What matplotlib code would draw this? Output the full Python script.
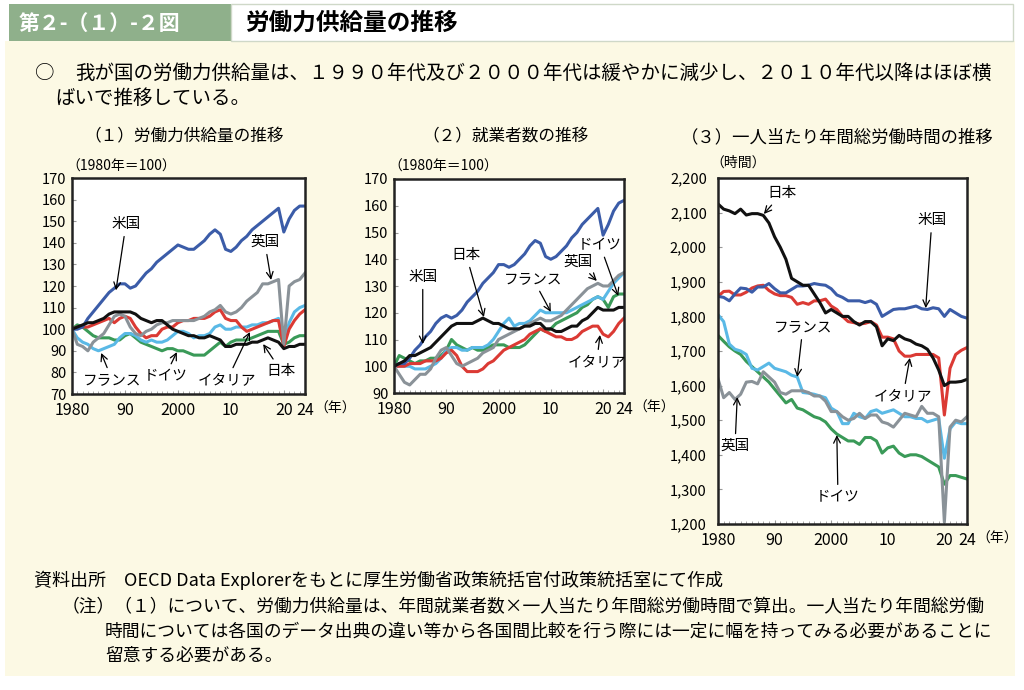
import numpy as np
import matplotlib
matplotlib.use("Agg")
import matplotlib.pyplot as plt
from matplotlib.patches import Rectangle

plt.rcParams['font.family'] = ['Noto Sans CJK JP', 'DejaVu Sans']

years = list(range(1980, 2025))

# (1) labour supply index, 1980=100
supply_us = [100, 100, 101, 105, 108, 111, 114, 117, 119, 121, 121, 119, 120, 123, 126, 128, 131, 133, 135, 137,
             139, 138, 137, 137, 139, 141, 144, 146, 144, 137, 136, 138, 141, 143, 146, 148, 150, 152, 154, 156,
             145, 151, 155, 157, 157]
supply_uk = [100, 93, 92, 90, 94, 96, 98, 102, 106, 107, 106, 101, 98, 97, 99, 100, 102, 103, 103, 104,
             104, 104, 104, 104, 105, 106, 108, 109, 111, 108, 107, 108, 110, 113, 115, 117, 121, 121, 122, 123,
             93, 120, 122, 123, 126]
supply_jp = [100, 101, 102, 103, 103, 104, 105, 107, 108, 108, 108, 108, 107, 105, 104, 103, 104, 104, 102, 100,
             99, 98, 97, 97, 96, 96, 97, 96, 95, 92, 92, 93, 93, 93, 94, 94, 95, 96, 95, 94,
             91, 92, 92, 93, 93]
supply_it = [100, 101, 101, 101, 102, 103, 104, 105, 103, 105, 106, 105, 101, 98, 96, 97, 97, 100, 101, 101,
             103, 104, 104, 105, 105, 105, 106, 108, 109, 105, 104, 104, 101, 99, 100, 101, 102, 103, 104, 104,
             92, 100, 104, 107, 109]
supply_fr = [100, 96, 94, 93, 91, 90, 91, 92, 93, 96, 98, 98, 97, 95, 94, 95, 94, 94, 95, 97,
             99, 99, 98, 96, 97, 97, 98, 101, 102, 100, 100, 101, 101, 101, 102, 102, 103, 103, 104, 105,
             93, 103, 108, 110, 111]
supply_de = [100, 102, 101, 99, 97, 96, 96, 96, 95, 95, 97, 98, 96, 94, 93, 92, 91, 90, 91, 91,
             90, 90, 89, 88, 88, 88, 90, 92, 94, 92, 94, 95, 95, 95, 96, 97, 98, 99, 99, 99,
             93, 94, 96, 97, 97]

# (2) employment index, 1980=100
emp_us = [100, 101, 101, 103, 106, 108, 111, 113, 116, 118, 119, 118, 119, 121, 124, 126, 128, 131, 133, 135,
          138, 138, 137, 138, 140, 142, 145, 147, 146, 141, 140, 141, 143, 145, 148, 150, 153, 155, 157, 159,
          149, 153, 158, 161, 162]
emp_jp = [100, 101, 102, 104, 104, 105, 106, 107, 109, 111, 113, 115, 116, 116, 116, 116, 117, 118, 117, 116,
          116, 115, 114, 114, 114, 115, 115, 116, 116, 114, 114, 113, 113, 114, 115, 115, 117, 118, 120, 122,
          121, 121, 121, 122, 122]
emp_fr = [100, 100, 100, 100, 99, 99, 99, 100, 101, 103, 106, 107, 107, 106, 106, 107, 107, 107, 108, 110,
          113, 116, 118, 115, 116, 116, 117, 119, 121, 120, 120, 120, 120, 120, 121, 122, 123, 124, 125, 126,
          125, 128, 131, 133, 135]
emp_uk = [100, 97, 94, 93, 95, 97, 97, 99, 103, 106, 107, 104, 101, 100, 101, 102, 103, 105, 106, 107,
          110, 111, 112, 113, 114, 115, 116, 117, 118, 117, 117, 118, 119, 121, 123, 125, 127, 129, 130, 131,
          130, 130, 132, 134, 135]
emp_de = [100, 104, 103, 102, 101, 102, 102, 103, 103, 104, 106, 110, 108, 107, 106, 107, 106, 106, 107, 108,
          108, 108, 107, 107, 107, 108, 110, 112, 114, 113, 114, 116, 117, 118, 119, 120, 122, 123, 125, 126,
          125, 122, 126, 127, 127]
emp_it = [100, 100, 100, 101, 101, 101, 102, 102, 102, 103, 105, 106, 104, 100, 98, 98, 98, 99, 101, 102,
          104, 106, 107, 108, 109, 110, 112, 113, 114, 113, 112, 111, 111, 110, 110, 111, 113, 114, 115, 115,
          112, 111, 113, 116, 118]

# (3) annual hours worked per worker
hrs_jp = [2125, 2110, 2105, 2097, 2110, 2093, 2097, 2097, 2092, 2070, 2030, 2000, 1965, 1910, 1900, 1890, 1890,
          1865, 1840, 1810, 1820, 1810, 1800, 1800, 1785, 1775, 1785, 1785, 1770, 1715, 1735, 1730, 1745, 1735,
          1730, 1720, 1715, 1705, 1680, 1645, 1600, 1610, 1610, 1612, 1618]
hrs_us = [1858, 1855, 1845, 1865, 1882, 1880, 1870, 1885, 1885, 1895, 1880, 1868, 1868, 1878, 1888, 1888, 1890,
          1895, 1892, 1890, 1880, 1862, 1855, 1845, 1845, 1845, 1840, 1845, 1835, 1800, 1810, 1820, 1822, 1822,
          1826, 1830, 1822, 1820, 1825, 1822, 1800, 1820, 1810, 1800, 1795]
hrs_it = [1858, 1872, 1873, 1862, 1862, 1870, 1882, 1888, 1890, 1875, 1865, 1860, 1860, 1855, 1835, 1840, 1835,
          1845, 1845, 1850, 1830, 1820, 1800, 1785, 1782, 1778, 1780, 1785, 1775, 1740, 1740, 1735, 1700, 1685,
          1685, 1690, 1690, 1690, 1690, 1680, 1515, 1650, 1690, 1702, 1710]
hrs_fr = [1805, 1785, 1720, 1705, 1700, 1690, 1650, 1645, 1655, 1665, 1650, 1645, 1640, 1630, 1625, 1580, 1578,
          1575, 1570, 1565, 1535, 1525, 1490, 1490, 1520, 1510, 1505, 1525, 1530, 1520, 1525, 1530, 1520, 1510,
          1510, 1505, 1505, 1495, 1500, 1505, 1390, 1475, 1495, 1490, 1490]
hrs_uk = [1620, 1565, 1580, 1560, 1575, 1610, 1612, 1605, 1640, 1625, 1610, 1580, 1575, 1585, 1585, 1585, 1580,
          1570, 1570, 1555, 1525, 1525, 1510, 1500, 1505, 1520, 1505, 1515, 1515, 1495, 1490, 1480, 1500, 1520,
          1515, 1510, 1540, 1520, 1520, 1510, 1205, 1480, 1500, 1495, 1510]
hrs_de = [1745, 1728, 1712, 1700, 1690, 1670, 1655, 1640, 1625, 1610, 1590, 1570, 1550, 1560, 1535, 1530, 1520,
          1510, 1505, 1495, 1475, 1460, 1450, 1440, 1440, 1430, 1450, 1450, 1440, 1405, 1420, 1425, 1405, 1395,
          1400, 1400, 1395, 1385, 1375, 1365, 1315, 1340, 1340, 1335, 1330]

xtick_pos = [1980, 1990, 2000, 2010, 2020, 2024]
xtick_lab = ["1980", "90", "2000", "10", "20", "24"]

c_us = "#3b5ca8"
c_jp = "#111111"
c_uk = "#8a9298"
c_it = "#db3a34"
c_fr = "#5ab9e6"
c_de = "#3a9a58"
cream = "#fcf9e4"

W, H = 1024, 690
fig = plt.figure(figsize=(W / 100, H / 100), dpi=100)
fig.patch.set_facecolor("white")


def fx(x):
    return x / W


def fy(y):
    return 1 - y / H


def box(x0, y0, x1, y1, **kw):
    fig.patches.append(Rectangle((fx(x0), fy(y1)), fx(x1) - fx(x0), fy(y0) - fy(y1),
                                 transform=fig.transFigure, figure=fig, zorder=-10, **kw))


# background blocks
box(5, 41, 1015, 676, facecolor=cream, edgecolor="none")
box(9, 4, 231, 41, facecolor="#8fb08b", edgecolor="none")
box(231, 4, 1013, 41, facecolor="white", edgecolor="#cfd8c8", linewidth=1)

fig.text(fx(19), fy(23), "第２-（１）-２図", color="white", fontsize=15, fontweight="bold", va="center")
fig.text(fx(245), fy(23), "労働力供給量の推移", color="black", fontsize=17, fontweight="bold", va="center")

fig.text(fx(35), fy(73), "○", fontsize=14, va="center")
fig.text(fx(75), fy(73), "我が国の労働力供給量は、１９９０年代及び２０００年代は緩やかに減少し、２０１０年代以降はほぼ横",
         fontsize=14, va="center")
fig.text(fx(55), fy(98), "ばいで推移している。", fontsize=14, va="center")

fig.text(fx(84), fy(137), "（１）労働力供給量の推移", fontsize=12, va="center")
fig.text(fx(422), fy(137), "（２）就業者数の推移", fontsize=12, va="center")
fig.text(fx(681), fy(137), "（３）一人当たり年間総労働時間の推移", fontsize=12.5, va="center")

fig.text(fx(34), fy(580), "資料出所　OECD Data Explorerをもとに厚生労働省政策統括官付政策統括室にて作成",
         fontsize=13, va="center")
fig.text(fx(62), fy(607), "（注）（１）について、労働力供給量は、年間就業者数×一人当たり年間総労働時間で算出。一人当たり年間総労働",
         fontsize=12.8, va="center")
fig.text(fx(105), fy(632), "時間については各国のデータ出典の違い等から各国間比較を行う際には一定に幅を持ってみる必要があることに",
         fontsize=12.8, va="center")
fig.text(fx(105), fy(656), "留意する必要がある。", fontsize=12.8, va="center")


def make_axes(x0, y0, x1, y1):
    ax = fig.add_axes([fx(x0), fy(y1), fx(x1) - fx(x0), fy(y0) - fy(y1)])
    ax.set_facecolor("white")
    for s in ax.spines.values():
        s.set_linewidth(1.8)
        s.set_color("#222222")
    ax.set_xlim(1980, 2024)
    ax.set_xticks(xtick_pos)
    ax.set_xticklabels(xtick_lab, family=["Liberation Sans Narrow", "Noto Sans CJK JP"], fontsize=11.5)
    ax.set_xticks(years, minor=True)
    ax.tick_params(axis="x", which="major", direction="in", length=3, pad=6, color="#999999")
    ax.tick_params(axis="x", which="minor", direction="in", length=2.5, color="#999999")
    ax.tick_params(axis="y", direction="in", length=3, pad=4, labelsize=10.5, color="#999999")
    return ax


def draw(ax, series):
    for vals, col in series:
        ax.plot(years, vals, color=col, lw=2.2, solid_joinstyle="round")


def note(ax, text, xy, xytext):
    ax.annotate(text, xy=xy, xytext=xytext, fontsize=10.5, ha="center", va="center",
                arrowprops=dict(arrowstyle="->", color="black", lw=0.9, shrinkA=2, shrinkB=0,
                                mutation_scale=12))


# panel 1
ax1 = make_axes(72, 178, 305, 394)
draw(ax1, [(supply_de, c_de), (supply_fr, c_fr), (supply_it, c_it), (supply_uk, c_uk),
           (supply_us, c_us), (supply_jp, c_jp)])
ax1.set_ylim(70, 170)
ax1.set_yticks(range(70, 171, 10))
note(ax1, "米国", (1988.3, 118), (1990.2, 148.7))
note(ax1, "英国", (2017.6, 122.8), (2016.4, 140.4))
note(ax1, "フランス", (1985.5, 89), (1987.6, 76.5))
note(ax1, "ドイツ", (1999.8, 89.4), (1997.6, 78.3))
note(ax1, "イタリア", (2013.6, 98.7), (2009.3, 76.5))
note(ax1, "日本", (2016.1, 93.1), (2019.5, 80.6))
fig.text(fx(66), fy(167), "（1980年＝100）", fontsize=10, va="center")
fig.text(fx(314), fy(409), "（年）", fontsize=10, va="center")

# panel 2
ax2 = make_axes(394, 179, 624, 393)
draw(ax2, [(emp_de, c_de), (emp_fr, c_fr), (emp_it, c_it), (emp_uk, c_uk),
           (emp_us, c_us), (emp_jp, c_jp)])
ax2.set_ylim(90, 170)
ax2.set_yticks(range(90, 171, 10))
note(ax2, "米国", (1985.5, 108.3), (1985.5, 133.4))
note(ax2, "日本", (1997.2, 118.4), (1993.8, 141.6))
note(ax2, "フランス", (2010.0, 120.3), (2006.6, 132.6))
note(ax2, "英国", (2018.8, 131.9), (2015.2, 139))
note(ax2, "ドイツ", (2022.9, 126.3), (2019.4, 145.4))
note(ax2, "イタリア", (2019.4, 111.7), (2018.8, 101.6))
fig.text(fx(388), fy(167), "（1980年＝100）", fontsize=10, va="center")
fig.text(fx(633), fy(408), "（年）", fontsize=10, va="center")

# panel 3
ax3 = make_axes(718, 178, 967, 524)
draw(ax3, [(hrs_de, c_de), (hrs_fr, c_fr), (hrs_it, c_it), (hrs_uk, c_uk),
           (hrs_us, c_us), (hrs_jp, c_jp)])
ax3.set_ylim(1200, 2200)
ax3.set_yticks(range(1200, 2201, 100))
ax3.set_yticklabels([f"{v:,}" for v in range(1200, 2201, 100)])
ax3.tick_params(axis="y", pad=8)
note(ax3, "日本", (1988.1, 2096), (1991.3, 2156))
note(ax3, "米国", (2016.7, 1824), (2017.8, 2078))
note(ax3, "フランス", (1994.0, 1625), (1995.0, 1769))
note(ax3, "イタリア", (2013.9, 1680), (2012.7, 1570))
note(ax3, "英国", (1983.4, 1567), (1983.0, 1425))
note(ax3, "ドイツ", (2001.0, 1457), (2001.2, 1278))
fig.text(fx(710), fy(163), "（時間）", fontsize=10, va="center")
fig.text(fx(976), fy(539), "（年）", fontsize=10, va="center")

fig.savefig("out.png", dpi=100, facecolor=fig.get_facecolor())
